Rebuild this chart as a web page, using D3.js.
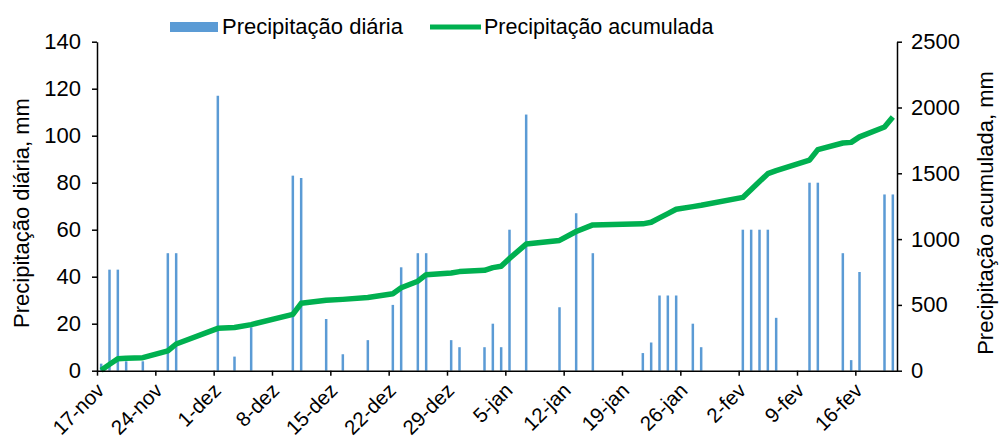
<!DOCTYPE html>
<html>
<head>
<meta charset="utf-8">
<script src="https://cdn.jsdelivr.net/npm/d3@7"></script>
<style>
  body { margin: 0; background: #fff; }
  text { font-family: "Liberation Sans", Arial, sans-serif; fill: #000; }
</style>
</head>
<body>
<script>
// Dias com chuva (apenas os dias com registo)
const diasChuva = [
    "2018-11-17", "2018-11-18", "2018-11-19", "2018-11-20", "2018-11-22", "2018-11-25", "2018-11-26",
    "2018-12-01", "2018-12-03", "2018-12-05", "2018-12-10", "2018-12-11", "2018-12-14", "2018-12-16",
    "2018-12-19", "2018-12-22", "2018-12-23", "2018-12-25", "2018-12-26", "2018-12-29", "2018-12-30",
    "2019-01-02", "2019-01-03", "2019-01-04", "2019-01-05", "2019-01-07", "2019-01-11", "2019-01-13",
    "2019-01-15", "2019-01-21", "2019-01-22", "2019-01-23", "2019-01-24", "2019-01-25", "2019-01-27",
    "2019-01-28", "2019-02-02", "2019-02-03", "2019-02-04", "2019-02-05", "2019-02-06", "2019-02-10",
    "2019-02-11", "2019-02-14", "2019-02-15", "2019-02-16", "2019-02-19", "2019-02-20"
];

// Precipitação diária, mm
const precDiaria = [
    3, 43, 43, 4, 4, 50, 50,
    117, 6, 18.5, 83, 82, 22, 7,
    13, 28, 44, 50, 50, 13, 10,
    10, 20, 10, 60, 109, 27, 67,
    50, 7.5, 12, 32, 32, 32, 20,
    10, 60, 60, 60, 60, 22.5, 80,
    80, 50, 4.5, 42, 75, 75
];

// Precipitação acumulada, mm
const precAcumulada = [
    3, 48, 91, 95, 99, 150, 203,
    322, 328, 350, 428, 512, 535, 542,
    556, 585, 630, 680, 730, 743, 753,
    763, 783, 793, 853, 962, 990, 1058,
    1108, 1116, 1128, 1161, 1194, 1227, 1247,
    1257, 1317, 1377, 1437, 1497, 1520, 1600,
    1680, 1730, 1735, 1777, 1852, 1928
];

// Marcas do eixo X
const datasEixo = [
    "2018-11-17", "2018-11-24", "2018-12-01", "2018-12-08", "2018-12-15", "2018-12-22", "2018-12-29",
    "2019-01-05", "2019-01-12", "2019-01-19", "2019-01-26", "2019-02-02", "2019-02-09", "2019-02-16"
];
const rotulosEixo = [
    "17-nov", "24-nov", "1-dez", "8-dez", "15-dez", "22-dez", "29-dez",
    "5-jan", "12-jan", "19-jan", "26-jan", "2-fev", "9-fev", "16-fev"
];

const ticksEsq = [0, 20, 40, 60, 80, 100, 120, 140];
const ticksDir = [0, 500, 1000, 1500, 2000, 2500];

const [w, h] = [999, 441];
const [esq, dir, topo, base] = [97, 897, 41.7, 370.7];
const fonte = 22;

const parse = d3.timeParse("%Y-%m-%d");
const datas = diasChuva.map(parse);

const svg = d3.select("body").append("svg")
    .attr("width", w)
    .attr("height", h);

// Escalas
const x = d3.scaleTime()
    .domain([parse("2018-11-17"), parse("2019-02-21")])
    .range([esq, dir]);

const yEsq = d3.scaleLinear().domain([0, 140]).range([base, topo]);
const yDir = d3.scaleLinear().domain([0, 2500]).range([base, topo]);

// centro de cada dia
const xc = (d) => x(d3.timeHour.offset(d, 12));

// Barras
svg.append("g")
    .selectAll("rect")
    .data(precDiaria)
    .enter()
    .append("rect")
    .attr("x", (d, i) => xc(datas[i]) - 1.25)
    .attr("y", (d) => yEsq(d))
    .attr("width", 2.5)
    .attr("height", (d) => base - yEsq(d))
    .attr("fill", "#5B9BD5");

// Linha acumulada
const linha = d3.line()
    .x((d, i) => xc(datas[i]))
    .y((d) => yDir(d));

svg.append("path")
    .datum(precAcumulada)
    .attr("d", linha)
    .attr("fill", "none")
    .attr("stroke", "#00B050")
    .attr("stroke-width", 5.5)
    .attr("stroke-linejoin", "round");

// Eixos
const eixoEsq = d3.axisLeft(yEsq).tickValues(ticksEsq).tickSize(5).tickSizeOuter(0).tickPadding(11);
const eixoDir = d3.axisRight(yDir).tickValues(ticksDir).tickFormat(d3.format("d"))
    .tickSize(5).tickSizeOuter(0).tickPadding(9);
const eixoX = d3.axisBottom(x)
    .tickValues(datasEixo.map(parse))
    .tickFormat((d, i) => rotulosEixo[i])
    .tickSize(5)
    .tickSizeOuter(0);

const gEsq = svg.append("g").attr("transform", "translate(" + esq + ",0)").call(eixoEsq);
const gDir = svg.append("g").attr("transform", "translate(" + dir + ",0)").call(eixoDir);
const gX = svg.append("g").attr("transform", "translate(0," + base + ")").call(eixoX);

svg.selectAll(".domain, .tick line")
    .attr("stroke", "#000")
    .attr("stroke-width", 1.5);
svg.selectAll(".tick text")
    .attr("font-size", fonte)
    .attr("font-family", "Liberation Sans, Arial, sans-serif")
    .attr("fill", "#000");

// rótulos do eixo X inclinados
gX.selectAll("text")
    .attr("x", 0).attr("y", 0).attr("dy", 0)
    .attr("font-size", 20.5)
    .attr("text-anchor", "end")
    .attr("transform", "translate(8,21) rotate(-45)");

// Títulos dos eixos
svg.append("text")
    .attr("transform", "translate(29,213) rotate(-90)")
    .attr("text-anchor", "middle")
    .attr("font-size", fonte)
    .text("Precipitação diária, mm");

svg.append("text")
    .attr("transform", "translate(993,213) rotate(-90)")
    .attr("text-anchor", "middle")
    .attr("font-size", fonte)
    .text("Precipitação acumulada, mm");

// Legenda
const leg = svg.append("g");
leg.append("rect").attr("x", 170).attr("y", 22).attr("width", 48).attr("height", 10).attr("fill", "#5B9BD5");
leg.append("text").attr("x", 222).attr("y", 34).attr("font-size", fonte).text("Precipitação diária");
leg.append("line").attr("x1", 430).attr("x2", 481).attr("y1", 27).attr("y2", 27)
    .attr("stroke", "#00B050").attr("stroke-width", 5);
leg.append("text").attr("x", 484).attr("y", 34).attr("font-size", 21.5).text("Precipitação acumulada");
</script>
</body>
</html>
